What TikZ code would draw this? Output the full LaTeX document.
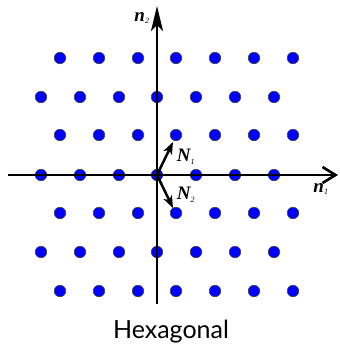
\documentclass[tikz,border=0pt]{standalone}
\usepackage{fontspec}
\usetikzlibrary{arrows.meta}
\newfontfamily\labfont{Liberation Serif}
\newfontfamily\capfont{Lato}
\newcommand{\subtxt}[1]{\textsubscript{\normalfont\labfont\itshape\fontsize{8}{8}\selectfont #1}}
\begin{document}
\begin{tikzpicture}[x=1pt,y=-1pt,
  dot/.style={circle,fill=blue,draw=black!75,line width=0.6pt,minimum size=11.5pt,inner sep=0pt},
  haxis/.style={line width=2.6pt,-{Straight Barb[length=13pt,width=16pt,line width=2.6pt]}},
  vaxis/.style={line width=2.6pt,-{Stealth[length=25pt,width=12pt,inset=6pt]}},
  vec/.style={line width=2.5pt,-{Stealth[length=12pt,width=9pt,inset=3pt]}},
  lab/.style={font=\labfont\bfseries\itshape\fontsize{19}{19}\selectfont,inner sep=0pt}]
\useasboundingbox (0,0) rectangle (340,346);
% lattice dots
\foreach \r/\yy in {0/58,2/135,4/213,6/291}{
  \foreach \c/\xx in {0/60,1/99,2/138,3/176,4/215,5/254,6/293}{
    \node[dot] (d\r\c) at (\xx,\yy) {};
  }
}
\foreach \r/\yy in {1/97,3/175,5/252}{
  \foreach \c/\xx in {0/41,1/80,2/119,3/157,4/196,5/235,6/274}{
    \node[dot] (d\r\c) at (\xx,\yy) {};
  }
}
\coordinate (o) at (157,175);
\coordinate (xl) at (8,175);
\coordinate (xr) at (338,175);
\coordinate (yb) at (157,304);
\coordinate (yt) at (157,6);
\draw[haxis] (xl) -- (xr);
\draw[vaxis] (yb) -- (yt);
\coordinate (n1e) at (173,142);
\coordinate (n2e) at (173,208);
\draw[vec] (o) -- (n1e);
\draw[vec] (o) -- (n2e);
\node[lab] (n2) at (142,18) {n\subtxt{2}};
\node[lab] (n1) at (321,189) {n\subtxt{1}};
\node[lab] (N1) at (186,157) {N\subtxt{1}};
\node[lab] (N2) at (186,195) {N\subtxt{2}};
\node[font=\capfont\fontsize{25}{25}\selectfont,inner sep=0pt,anchor=base] (cap) at (171,338) {Hexagonal};
\end{tikzpicture}
\end{document}
